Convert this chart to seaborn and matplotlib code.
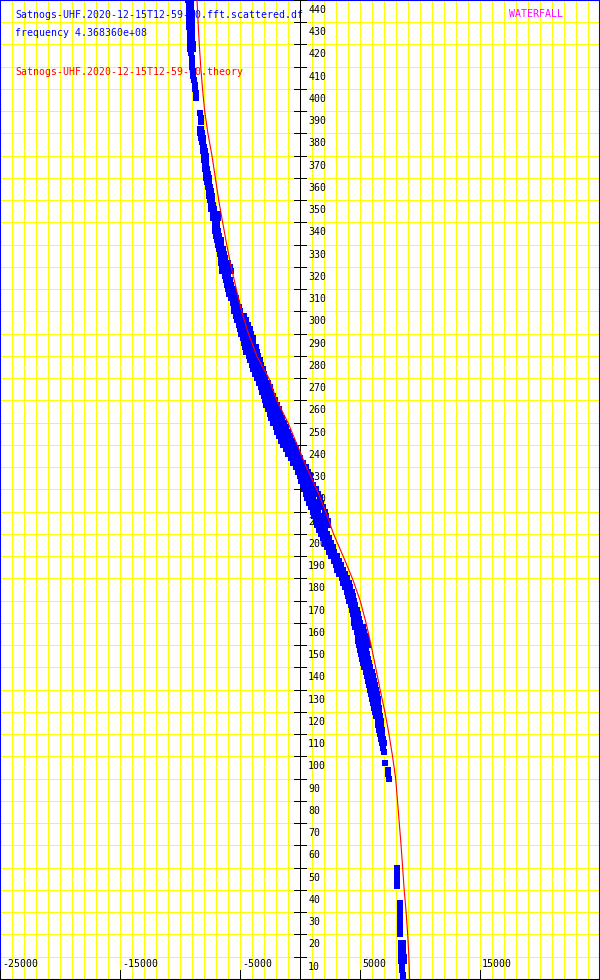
import numpy as np
import pandas as pd
import matplotlib
matplotlib.use("Agg")
import matplotlib.pyplot as plt
import seaborn as sns

nan = np.nan

# theory curve (red line), x = doppler offset, y = time row
theory_y = [0, 10, 20, 30, 40, 50, 60, 70, 80, 90, 100, 110, 120, 130, 140, 150, 160,
            170, 180, 190, 200, 210, 220, 230, 240, 250, 260, 270, 280, 290, 300, 310,
            320, 330, 340, 350, 360, 370, 380, 390, 400, 410, 420, 430, 440]
theory_x = [9120, 9060, 8960, 8830, 8670, 8540, 8410, 8260, 8110, 7960, 7700, 7400, 7060,
            6660, 6290, 5910, 5490, 5000, 4350, 3580, 2780, 2120, 1380, 520, -250, -1020,
            -1950, -2620, -3620, -4320, -4880, -5330, -5760, -6130, -6470, -6800, -7080,
            -7360, -7700, -7970, -8150, -8300, -8420, -8520, -8610]

# measured points, top part
top_y = [442, 440, 438, 436, 434, 432, 430, 428, 426, 424, 422, 420, 418, 416, 414, 412,
         410, 408, 406, 404, 402, 400, 398, 396, 389, 387, 385]
top_x1 = [-9350, -9340, -9320, -9300, -9300, -9280, -9270, -9250, -9230, -9220, -9200,
          -9180, -9160, -9080, -9050, -9020, -9000, -8970, -8930, -8850, -8760, -8740,
          -8720, -8700, -8320, -8300, -8290]
top_x2 = [-9120, -9110, -9100, -9080, -9070, -9060, -9040, -9030, -9020, -9010, -8990,
          -8980, -8960, nan, nan, nan, nan, nan, nan, nan, nan, nan, nan, nan, nan, nan, nan]

# measured points, main band (rows 382 .. 102, every 2)
band_y = list(range(382, 101, -2))
band_x1 = [
    -8350, -8320, -8250, -8180, -8150, -8150, -8050, -8000, -7950, -7950,
    -7850, -7850, -7750, -7700, -7650, -7650, -7550, -7450, -7450, -7300,
    -7250, -7150, -7150, -7100, -7000, -6950, -6900, -6800, -6700, -6650,
    -6650, -6550, -6500, -6300, -6200, -6150, -6000, -5950, -5800, -5650,
    -5550, -5500, -5350, -5250, -5150, -5050, -4950, -4800, -4650, -4600,
    -4500, -4300, -4200, -4000, -3900, -3800, -3600, -3450, -3300, -3200,
    -3050, -2950, -2850, -2700, -2550, -2400, -2250, -2050, -1900, -1750,
    -1600, -1400, -1200, -1050, -800, -600, -350, -150, -50, 50,
    200, 350, 450, 550, 750, 900, 1050, 1150, 1300, 1400,
    1600, 1750, 1900, 2050, 2200, 2400, 2600, 2800, 2950, 3100,
    3250, 3450, 3600, 3750, 3900, 4000, 4100, 4200, 4300, 4400,
    4450, 4450, 4550, 4700, 4800, 4850, 4900, 5000, 5100, 5150,
    5250, 5350, 5450, 5550, 5650, 5700, 5800, 5900, 6000, 6050,
    6150, 6250, 6350, 6450, 6500, 6550, 6650, 6700, 6800, 6900,
    6950]
band_x2 = [
    -8250, -8230, -8150, -8080, -8000, -7950, -7900, -7880, -7820, -7750,
    -7700, -7650, -7600, -7500, -7450, -7400, -7350, -7300, -7200, -6850,
    -6900, -6950, -6950, -6880, -6800, -6650, -6600, -6450, -6380, -6300,
    -6350, -6250, -6150, -6000, -5900, -5800, -5650, -5500, -5400, -5250,
    -5150, -5050, -4950, -4850, -4700, -4600, -4500, -4380, -4250, -4150,
    -4000, -3850, -3700, -3600, -3450, -3300, -3150, -3000, -2850, -2750,
    -2600, -2500, -2350, -2250, -2100, -1900, -1750, -1600, -1450, -1250,
    -1100, -900, -750, -550, -400, -200, 50, 250, 400, 500,
    650, 800, 950, 1050, 1250, 1400, 1500, 1650, 1800, 1900,
    2050, 2200, 2400, 2550, 2700, 2850, 3050, 3250, 3400, 3550,
    3700, 3900, 4050, 4150, 4280, 4380, 4450, 4550, 4700, 4850,
    4900, 4750, 4950, 5100, 5200, 5300, 5350, 5450, 5550, 5650,
    5750, 5850, 5950, 6050, 6150, 6200, 6300, 6400, 6450, 6500,
    6550, 6600, 6650, 6700, 6750, 6800, 6850, 6900, 6950, nan,
    nan]
band_x3 = [
    nan, nan, nan, nan, nan, nan, nan, nan, nan, nan,
    nan, nan, nan, nan, nan, nan, nan, nan, nan, nan,
    nan, nan, nan, nan, nan, nan, nan, nan, nan, nan,
    -6000, -5850, -5800, nan, nan, nan, nan, nan, nan, nan,
    nan, nan, -4700, -4550, -4350, -4200, -4100, -3950, -3900, -3700,
    -3600, -3500, -3350, -3250, -3100, -3050, -2900, -2650, -2500, -2400,
    -2250, -2100, -1950, -1750, -1650, -1500, -1350, -1150, -1000, -850,
    -700, -500, -350, -150, 0, 200, 450, 650, 800, 900,
    1100, 1300, 1450, 1650, 1750, 1900, 2050, 2150, 2300, 2350,
    nan, nan, nan, nan, nan, nan, nan, nan, nan, nan,
    nan, nan, nan, nan, nan, nan, nan, nan, nan, nan,
    nan, 5000, 5200, 5350, 5500, 5550, 5650, nan, nan, nan,
    nan, nan, nan, nan, nan, nan, nan, nan, nan, nan,
    nan, nan, nan, nan, nan, nan, nan, nan, nan, nan,
    nan]

# measured points, bottom part
low_y = [97, 94, 92, 90, 50, 48, 46, 44, 42, 34, 32, 30, 28, 26, 24, 22, 20,
         16, 14, 12, 10, 8, 6, 4, 2, 0]
low_x1 = [7030, 7350, 7360, 7380, 8060, 8060, 8070, 8080, 8080, 8300, 8300, 8310, 8310,
          8320, 8320, 8330, 8340, 8380, 8380, 8400, 8420, 8440, 8500, 8520, 8540, 8550]
low_x2 = [nan] * 17 + [8580, 8590, 8610, 8620, 8630, nan, nan, nan, nan]

y_labels = list(range(10, 441, 10))
x_labels = [-25000, -15000, -5000, 5000, 15000]

# ---------------------------------------------------------
sns.set_style("white")
plt.rcParams["font.family"] = ["DejaVu Sans Mono"]

px_x = 1000 / 12       # units per pixel, x
px_y = 10 / 22.28      # units per pixel, y
X0 = -15000 - 120.5 * px_x
X1 = X0 + 600 * px_x
Y0, Y1 = -0.45, 439.4
FS = 7.1

fig = plt.figure(figsize=(6, 9.8), dpi=100)
ax = fig.add_axes([0, 0, 1, 1])

rows = []
for ys, xs_list in [(top_y, [top_x1, top_x2]),
                    (band_y, [band_x1, band_x2, band_x3]),
                    (low_y, [low_x1, low_x2])]:
    for xs in xs_list:
        rows.append(pd.DataFrame({"y": ys, "x": xs}))
pts = pd.concat(rows).dropna()

sns.scatterplot(data=pts, x="x", y="y", marker="s", s=17, color="#0000ff",
                linewidth=0, ax=ax, zorder=5)
sns.lineplot(x=theory_x, y=theory_y, orient="y", estimator=None, color="#ff0000",
             lw=0.8, ax=ax, zorder=6)

ax.set_xlim(X0, X1)
ax.set_ylim(Y0, Y1)
ax.set_xlabel("")
ax.set_ylabel("")

# yellow grid, crisp one pixel lines
grid_kw = dict(lw=0.6, antialiased=False, snap=True)
ax.set_xticks(np.arange(-25000, 25001, 1000))
ax.set_yticks(np.arange(0, 441, 10))
ax.grid(True, color="#ffff00", **grid_kw)
ax.set_axisbelow(True)
ax.tick_params(length=0, labelbottom=False, labelleft=False)

for side in ["left", "top", "right"]:
    ax.spines[side].set_color("#0000ff")
    ax.spines[side].set_linewidth(1.5)
ax.spines["bottom"].set_color("black")
ax.spines["bottom"].set_linewidth(1.5)

# centre axis with ticks and labels
ax.axvline(0, color="black", zorder=4, **grid_kw)
ax.hlines(y_labels, -6 * px_x, 6 * px_x, color="black", zorder=4, **grid_kw)
for v in y_labels:
    ax.text(8 * px_x, v - 10 * px_y, str(v), ha="left", va="center",
            fontsize=FS, color="black", zorder=3)

# bottom ticks and labels
ax.vlines(x_labels, Y0, Y0 + 10 * px_y, color="black", zorder=4, **grid_kw)
for v in x_labels:
    ax.text(v + 2 * px_x, Y0 + 16 * px_y, str(v), ha="left", va="center",
            fontsize=FS, color="black", zorder=3)

# titles
tf = dict(transform=ax.transAxes, ha="left", va="center", fontsize=FS, zorder=3)
ax.text(15 / 600, 1 - 14.5 / 980, "Satnogs-UHF.2020-12-15T12-59-00.fft.scattered.df",
        color="#0000ff", **tf)
ax.text(15 / 600, 1 - 33 / 980, "frequency 4.368360e+08", color="#0000ff", **tf)
ax.text(15 / 600, 1 - 72 / 980, "Satnogs-UHF.2020-12-15T12-59-00.theory",
        color="#ff0000", **tf)
ax.text(509 / 600, 1 - 14 / 980, "WATERFALL", color="#ff00ff", **tf)

fig.savefig("out.png", dpi=100)
